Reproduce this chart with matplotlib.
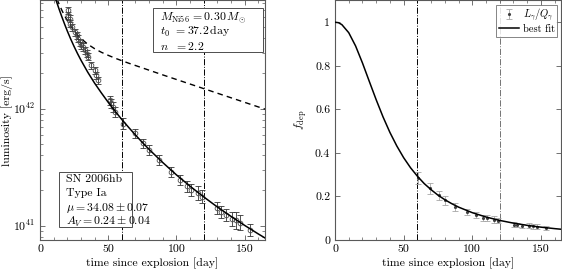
import numpy as np
import matplotlib
matplotlib.use("Agg")
import matplotlib.pyplot as plt
from matplotlib.patches import Rectangle
from matplotlib.ticker import MultipleLocator, FuncFormatter, LogLocator, NullFormatter

plt.rcParams['font.family'] = 'serif'
plt.rcParams['font.serif'] = ['cmr10']
plt.rcParams['mathtext.fontset'] = 'cm'
plt.rcParams['axes.formatter.use_mathtext'] = True
plt.rcParams['font.size'] = 8.5

# light curve points, log10 L [erg/s]
t_early = [20.6, 20.6, 21.9, 21.9, 23.1, 25.5, 26.8, 27.9, 29.2, 30.4, 31.6, 32.8, 34.1, 35.2,
           37.7, 40.1, 41.4, 42.5, 51.1, 52.3, 53.5, 54.7]
logL_early = [42.837, 42.795, 42.767, 42.724, 42.695, 42.652, 42.624, 42.596, 42.567, 42.539,
              42.525, 42.497, 42.468, 42.44, 42.369, 42.326, 42.284, 42.241, 42.071, 42.043,
              42.014, 41.971]
err_early = [0.03] * 18 + [0.04, 0.04, 0.04, 0.04]

t_late = [60.8, 69.3, 75.4, 80.2, 87.5, 96.0, 102.8, 107.8, 110.6, 115.5, 119.1, 130.1,
          132.5, 136.2, 141.0, 144.0, 147.0, 153.7]
logL_late = [41.872, 41.787, 41.702, 41.645, 41.560, 41.46, 41.39, 41.335, 41.304, 41.276,
             41.247, 41.148, 41.119, 41.091, 41.055, 41.045, 41.025, 40.963]
err_late = [0.045, 0.04, 0.04, 0.045, 0.045, 0.045, 0.045, 0.05, 0.05, 0.06, 0.055, 0.05,
            0.05, 0.05, 0.06, 0.07, 0.065, 0.055]

# deposition fraction points (same epochs as t_late)
fdep = [0.285, 0.238, 0.205, 0.182, 0.152, 0.128, 0.113, 0.103, 0.099, 0.094, 0.089, 0.071,
        0.068, 0.064, 0.065, 0.063, 0.061, 0.055]
fdep_err = [0.028, 0.025, 0.022, 0.02, 0.017, 0.015, 0.014, 0.014, 0.014, 0.014, 0.013, 0.011,
            0.01, 0.01, 0.012, 0.012, 0.011, 0.009]

# model curves
t_fit = [11, 12, 14, 16, 18, 20, 22.5, 25, 27.5, 30, 35, 40, 45, 50, 55, 60, 65, 70, 75, 80,
         90, 100, 110, 120, 130, 140, 150, 160, 165]
logL_fit = [42.951, 42.916, 42.848, 42.783, 42.721, 42.662, 42.593, 42.529, 42.469, 42.413,
            42.310, 42.217, 42.133, 42.053, 41.978, 41.906, 41.839, 41.774, 41.711, 41.651,
            41.539, 41.434, 41.337, 41.246, 41.160, 41.080, 41.003, 40.930, 40.895]
logQ = [42.977, 42.947, 42.891, 42.839, 42.793, 42.750, 42.704, 42.663, 42.628, 42.598,
        42.549, 42.511, 42.480, 42.454, 42.430, 42.408, 42.387, 42.367, 42.347, 42.327,
        42.287, 42.248, 42.209, 42.170, 42.131, 42.092, 42.053, 42.014, 41.995]

t_f = [0, 2.5, 5, 10, 15, 20, 25, 30, 35, 40, 45, 50, 55, 60, 65, 70, 75, 80, 85, 90, 100,
       110, 120, 130, 140, 150, 160, 165]
f_fit = [1.0, 0.998, 0.989, 0.952, 0.891, 0.813, 0.728, 0.644, 0.565, 0.494, 0.432, 0.378,
         0.332, 0.293, 0.259, 0.231, 0.206, 0.185, 0.167, 0.151, 0.1255, 0.1056, 0.0899,
         0.0774, 0.0673, 0.059, 0.0522, 0.0492]

t_cut = [60, 120]


def logerr(logv, e):
    logv = np.array(logv)
    e = np.array(e)
    v = 10 ** logv
    return v, [v - 10 ** (logv - e), 10 ** (logv + e) - v]


def boxed(ax, x0, y0, x1, y1, lines):
    ax.add_patch(Rectangle((x0, y0), x1 - x0, y1 - y0, transform=ax.transAxes,
                           fc='white', ec='0.3', lw=0.7, zorder=6))
    step = (y1 - y0) / len(lines)
    for i, s in enumerate(lines):
        ax.text(x0 + 0.03, y1 - step * (i + 0.5), s, transform=ax.transAxes,
                va='center_baseline', ha='left', fontsize=8.5, zorder=7)


fig = plt.figure(figsize=(5.62, 2.75), dpi=100)
ax1 = fig.add_axes([0.0712, 0.1273, 0.4004, 0.871])
ax2 = fig.add_axes([0.5961, 0.1273, 0.403, 0.871])

# left panel
L_e, yerr_e = logerr(logL_early, err_early)
L_l, yerr_l = logerr(logL_late, err_late)
for t, L, ye in [(t_early, L_e, yerr_e), (t_late, L_l, yerr_l)]:
    ax1.errorbar(t, L, yerr=ye, fmt='o', ms=3.4, mfc='none', mec='0.3', mew=0.6,
                 ecolor='0.2', elinewidth=0.6, capsize=2, capthick=0.6, zorder=3)
ax1.plot(t_fit, 10 ** np.array(logL_fit), color='k', lw=1.1, zorder=4)
ax1.plot(t_fit, 10 ** np.array(logQ), color='k', lw=1.0, ls=(0, (4, 3)), zorder=2)
for tc in t_cut:
    ax1.axvline(tc, color='k', lw=0.7, ls='-.')

ax1.set_yscale('log')
ax1.set_xlim(0, 165)
ax1.set_ylim(7.55e40, 8.36e42)
ax1.yaxis.set_major_locator(LogLocator(base=10, numticks=5))
ax1.yaxis.set_minor_locator(LogLocator(base=10, subs=np.arange(2, 10), numticks=20))
ax1.yaxis.set_minor_formatter(NullFormatter())
ax1.set_xlabel('time since explosion [day]', labelpad=2)
ax1.set_ylabel('luminosity [erg/s]', labelpad=0)

boxed(ax1, 0.504, 0.785, 0.991, 0.97,
      ['$M_{\\rm Ni56}\\,=0.30\\,M_{\\odot}$', '$t_0\\;\\,=37.2\\,{\\rm day}$',
       '$n\\;\\;\\,=2.2$'])
boxed(ax1, 0.086, 0.055, 0.408, 0.285,
      ['SN 2006hb', 'Type Ia', '$\\mu=34.08\\pm0.07$', '$A_V=0.24\\pm0.04$'])

# right panel
eb = ax2.errorbar(t_late, fdep, yerr=fdep_err, fmt='.', ms=2.5, color='0.25',
                  ecolor='0.65', elinewidth=0.6, capsize=2, capthick=0.6, zorder=3,
                  label='$L_\\gamma/Q_\\gamma$')
ln, = ax2.plot(t_f, f_fit, color='k', lw=1.1, zorder=4, label='best fit')
ax2.axvline(t_cut[0], color='k', lw=0.7, ls='-.')
ax2.axvline(t_cut[1], color='0.45', lw=0.7, ls='-.')
ax2.set_xlim(0, 165)
ax2.set_ylim(0, 1.1)
ax2.yaxis.set_major_locator(MultipleLocator(0.2))
ax2.yaxis.set_major_formatter(FuncFormatter(lambda v, p: '%g' % round(v, 2)))
ax2.set_xlabel('time since explosion [day]', labelpad=2)
ax2.set_ylabel('$f_{\\rm dep}$', labelpad=4)
leg = ax2.legend(handles=[eb, ln], loc='upper right', fontsize=7.5, frameon=True,
                 fancybox=False, edgecolor='0.4', handlelength=2.0, handletextpad=0.3,
                 borderpad=0.25, labelspacing=0.1, borderaxespad=0.4)
leg.get_frame().set_linewidth(0.7)

for ax in (ax1, ax2):
    ax.xaxis.set_major_locator(MultipleLocator(50))
    ax.xaxis.set_minor_locator(MultipleLocator(10))
    ax.xaxis.set_major_formatter(FuncFormatter(lambda v, p: '%d' % v))
    ax.tick_params(which='both', direction='in', top=True, right=True, colors='0.35',
                   labelcolor='k', labelsize=8.5)
    ax.tick_params(which='major', length=3.5, width=0.6)
    ax.tick_params(which='minor', length=2, width=0.5)
    for s in ax.spines.values():
        s.set_color('0.35')
        s.set_linewidth(0.8)

fig.savefig('out.png', dpi=100)
